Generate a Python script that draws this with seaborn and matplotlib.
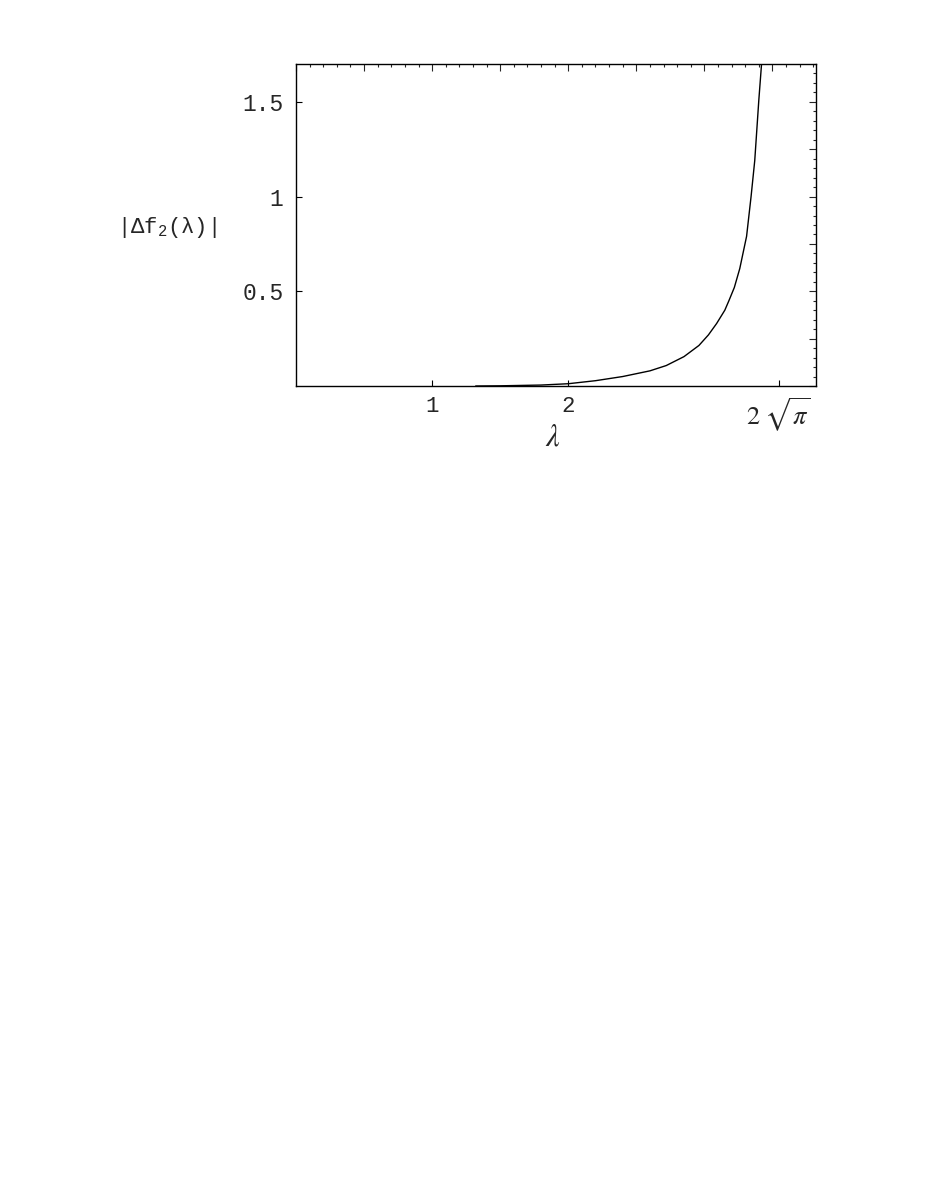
import numpy as np
import pandas as pd
import matplotlib
matplotlib.use("Agg")
import matplotlib.pyplot as plt
from matplotlib.ticker import MultipleLocator
import seaborn as sns

# curve
lam = [1.32, 1.5, 1.8, 2.0, 2.2, 2.4, 2.6, 2.72, 2.85, 2.96, 3.03, 3.09, 3.15, 3.18, 3.22, 3.26, 3.31, 3.343, 3.37, 3.385, 3.40, 3.42]
df2 = [0.0, 0.001, 0.005, 0.012, 0.028, 0.050, 0.080, 0.108, 0.155, 0.214, 0.27, 0.33, 0.40, 0.45, 0.52, 0.62, 0.79, 1.0, 1.19, 1.35, 1.51, 1.70]

xtick_pos = [1, 2, 2 * np.sqrt(np.pi)]
xtick_lab = ["1", "2", r"$2\;\sqrt{\pi}$"]
ytick_pos = [0.5, 1, 1.5]
ytick_lab = ["0.5", "1", "1.5"]

df = pd.DataFrame({"lam": lam, "df2": df2})

sns.set_style("white")
mono = ["Liberation Mono", "DejaVu Sans Mono"]
plt.rcParams["mathtext.fontset"] = "custom"
plt.rcParams["mathtext.rm"] = "Liberation Mono"
plt.rcParams["mathtext.it"] = "Liberation Mono"

fig = plt.figure(figsize=(9.26, 11.99), dpi=100)
ax = fig.add_axes([296 / 926, 1 - 386 / 1199, 520 / 926, 322 / 1199])

sns.lineplot(data=df, x="lam", y="df2", ax=ax, color="black", linewidth=1.0)

ax.set_xlim(0, 3.82)
ax.set_ylim(0, 1.70)

for s in ax.spines.values():
    s.set_color("black")
    s.set_linewidth(1.0)

ax.set_xticks(xtick_pos)
ax.set_xticklabels(xtick_lab, fontsize=16, family=mono)
ax.get_xticklabels()[2].set_math_fontfamily("stix")
ax.get_xticklabels()[2].set_fontsize(19)
ax.set_yticks(ytick_pos)
ax.set_yticklabels(ytick_lab, fontsize=16.5, family=mono)
ax.tick_params(axis="both", direction="in", length=4, width=0.8, color="black",
               top=False, right=False, bottom=True, left=True)
ax.tick_params(axis="x", pad=7)
ax.tick_params(axis="y", pad=9)
ax.set_xlabel("")
ax.set_ylabel("")

top = ax.secondary_xaxis("top")
top.xaxis.set_major_locator(MultipleLocator(0.5))
top.xaxis.set_minor_locator(MultipleLocator(0.1))
top.tick_params(which="major", direction="in", length=5, width=0.8, labeltop=False)
top.tick_params(which="minor", direction="in", length=2.5, width=0.8)
top.spines["top"].set_visible(False)

right = ax.secondary_yaxis("right")
right.yaxis.set_major_locator(MultipleLocator(0.25))
right.yaxis.set_minor_locator(MultipleLocator(0.05))
right.tick_params(which="major", direction="in", length=5, width=0.8, labelright=False)
right.tick_params(which="minor", direction="in", length=2.5, width=0.8)
right.spines["right"].set_visible(False)

fig.text(117 / 926, 1 - 227 / 1199, r"|Δf$_2$(λ)|", fontsize=16, family=mono,
         ha="left", va="center", math_fontfamily="custom")
fig.text(553 / 926, 1 - 437 / 1199, r"$\lambda$", fontsize=22, ha="center", va="center",
         math_fontfamily="stix")

fig.savefig("out.png", dpi=100)
